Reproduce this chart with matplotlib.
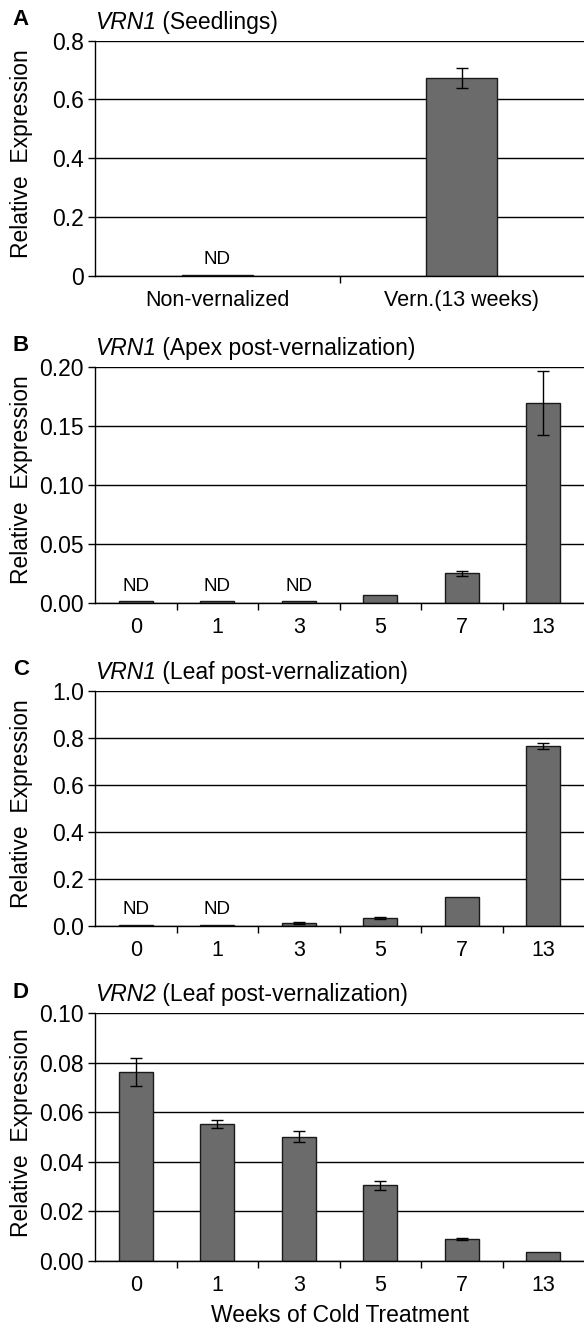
import matplotlib
matplotlib.use('Agg')
import matplotlib.pyplot as plt

plt.rcParams['font.family'] = ['Liberation Sans', 'DejaVu Sans']

# panel A: VRN1 in seedlings
a_labels = ['Non-vernalized', 'Vern.(13 weeks)']
a_values = [0.004, 0.673]
a_errors = [0, 0.035]
a_nd = [True, False]

# panels B-D: weeks of cold treatment
weeks = ['0', '1', '3', '5', '7', '13']

b_values = [0.001, 0.001, 0.001, 0.0062, 0.025, 0.169]
b_errors = [0, 0, 0, 0, 0.002, 0.027]
b_nd = [True, True, True, False, False, False]

c_values = [0.005, 0.005, 0.011, 0.034, 0.123, 0.765]
c_errors = [0, 0, 0.004, 0.003, 0, 0.011]
c_nd = [True, True, False, False, False, False]

d_values = [0.0762, 0.0554, 0.0502, 0.0305, 0.0090, 0.0035]
d_errors = [0.0056, 0.0016, 0.0023, 0.0017, 0.0004, 0]
d_nd = [False] * 6

panels = [
    ('A', 'VRN1', ' (Seedlings)', a_labels, a_values, a_errors, a_nd,
     [0, 0.2, 0.4, 0.6, 0.8], ['0', '0.2', '0.4', '0.6', '0.8'], 0.29),
    ('B', 'VRN1', ' (Apex post-vernalization)', weeks, b_values, b_errors, b_nd,
     [0, 0.05, 0.10, 0.15, 0.20], ['0.00', '0.05', '0.10', '0.15', '0.20'], 0.42),
    ('C', 'VRN1', ' (Leaf post-vernalization)', weeks, c_values, c_errors, c_nd,
     [0, 0.2, 0.4, 0.6, 0.8, 1.0], ['0.0', '0.2', '0.4', '0.6', '0.8', '1.0'], 0.42),
    ('D', 'VRN2', ' (Leaf post-vernalization)', weeks, d_values, d_errors, d_nd,
     [0, 0.02, 0.04, 0.06, 0.08, 0.10], ['0.00', '0.02', '0.04', '0.06', '0.08', '0.10'], 0.42),
]

boxes = [
    [0.1627, 0.7922, 0.8373, 0.1772],
    [0.1627, 0.5462, 0.8373, 0.1777],
    [0.1627, 0.3027, 0.8373, 0.1772],
    [0.1627, 0.0505, 0.8373, 0.1865],
]

fig = plt.figure(figsize=(5.84, 13.28), dpi=100)

for (letter, gene, rest, cats, vals, errs, nd, yt, ytl, width), box in zip(panels, boxes):
    ax = fig.add_axes(box)
    n = len(cats)
    x = list(range(n))
    ax.bar(x, vals, width=width, color='#6b6b6b', edgecolor='#1a1a1a', linewidth=1, zorder=2)
    ex = [i for i in x if errs[i] > 0]
    ax.errorbar(ex, [vals[i] for i in ex], yerr=[errs[i] for i in ex], fmt='none',
                ecolor='black', elinewidth=1, capsize=4.5, capthick=1, zorder=3)
    for i in x:
        if nd[i]:
            ax.annotate('ND', (i, vals[i]), xytext=(0, 5), textcoords='offset points',
                        ha='center', va='bottom', fontsize=13.5)

    ax.set_xlim(-0.5, n - 0.5)
    ax.set_ylim(yt[0], yt[-1])
    ax.set_yticks(yt)
    ax.set_yticklabels(ytl, fontsize=16.5)
    ax.set_xticks(x)
    ax.set_xticklabels(cats, fontsize=15.5)
    ax.set_xticks([i + 0.5 for i in range(n - 1)], minor=True)
    ax.tick_params(axis='x', which='major', length=0, pad=10)
    ax.tick_params(axis='x', which='minor', length=5, direction='out', width=1)
    ax.tick_params(axis='y', length=5, direction='out', width=1, pad=3)

    ax.yaxis.grid(True, color='black', linewidth=1)
    ax.set_axisbelow(True)
    ax.spines['top'].set_visible(False)
    ax.spines['right'].set_visible(False)
    ax.spines['left'].set_linewidth(1)
    ax.spines['bottom'].set_linewidth(1)

    ax.set_ylabel('Relative  Expression', fontsize=16.5)
    ax.yaxis.set_label_coords(-0.127, 0.52)

    top = box[1] + box[3]
    fig.text(0.022, top + 0.008, letter, fontsize=16, fontweight='bold', va='bottom')
    t = ax.text(0.0, 1.0, gene, style='italic', fontsize=16.5, transform=ax.transAxes,
                va='bottom', ha='left')
    ax.annotate(rest, xy=(1, 0), xycoords=t, va='bottom', ha='left', fontsize=16.5)
    t.set_position((0.0, 1.03))

ax.set_xlabel('Weeks of Cold Treatment', fontsize=16.5, labelpad=6)

plt.savefig('out.png', dpi=100)
